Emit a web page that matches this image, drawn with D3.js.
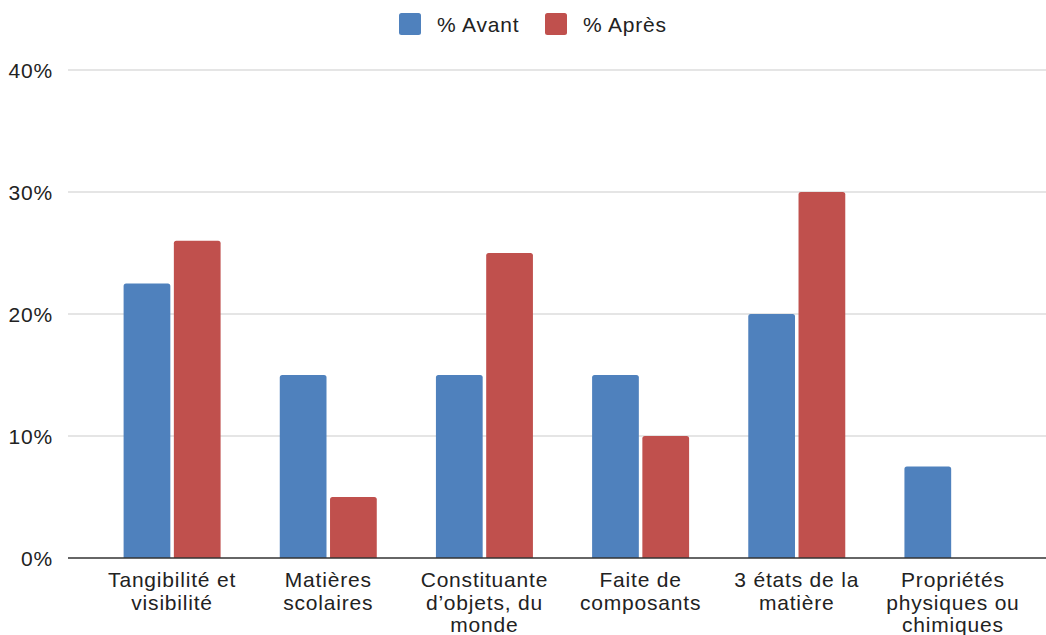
<!DOCTYPE html>
<html><head><meta charset="utf-8">
<script src="https://cdn.jsdelivr.net/npm/d3@7"></script>
<style>body{margin:0;background:#fff}svg{display:block;font-family:"Liberation Sans",Arial,sans-serif}</style>
</head><body><svg id="c" width="1046" height="635"></svg>
<script>
const categories = [
  ["Tangibilité et","visibilité"],
  ["Matières","scolaires"],
  ["Constituante","d’objets, du","monde"],
  ["Faite de","composants"],
  ["3 états de la","matière"],
  ["Propriétés","physiques ou","chimiques"]
];
const seriesNames = ["% Avant","% Après"];
const avant = [22.5, 15, 15, 15, 20, 7.5];
const apres = [26, 5, 25, 10, 30, 0];
const yTicks = [0, 10, 20, 30, 40];
const colors = ["#4f81bd","#c0504d"];

const svg = d3.select("#c");
const keys = categories.map(c => c.join(" "));
const x = d3.scaleBand().domain(keys).range([94, 1031]).padding(0);
const x1 = d3.scaleBand().domain(seriesNames).range([29.6, 126.6]).paddingInner(0.07);
const y = d3.scaleLinear().domain([0, 40]).range([558, 70]);

svg.append("g").selectAll("line").data(yTicks.filter(d=>d>0)).join("line")
  .attr("x1", 68).attr("x2", 1046)
  .attr("y1", d=>y(d)).attr("y2", d=>y(d))
  .attr("stroke", "#cccccc").attr("stroke-width", 1.2);

svg.append("g").selectAll("text").data(yTicks).join("text")
  .attr("x", 53).attr("y", d=>y(d)+7.5).attr("text-anchor","end")
  .attr("font-size", 21).attr("letter-spacing", 0.8).attr("fill","#222").text(d=>d+"%");

const data = keys.map((k,i)=>({k, vals:[avant[i], apres[i]]}));
const g = svg.append("g").selectAll("g").data(data).join("g")
  .attr("transform", d=>`translate(${x(d.k)},0)`);
function barPath(x0, w, top, bottom){
  if (bottom - top <= 0) return "";
  const r = Math.min(2.5, (bottom-top));
  return `M${x0},${bottom}V${top+r}Q${x0},${top} ${x0+r},${top}H${x0+w-r}Q${x0+w},${top} ${x0+w},${top+r}V${bottom}Z`;
}
g.selectAll("path").data(d=>d.vals.map((v,j)=>({v, s:seriesNames[j], j}))).join("path")
  .attr("d", d=>barPath(x1(d.s), x1.bandwidth(), y(d.v), y(0)))
  .attr("fill", d=>colors[d.j]);

svg.append("line").attr("x1",68).attr("x2",1046).attr("y1",y(0)).attr("y2",y(0))
  .attr("stroke","#333").attr("stroke-width",1.5);

const xl = svg.append("g").selectAll("text").data(categories).join("text")
  .attr("text-anchor","middle").attr("font-size",21).attr("letter-spacing",0.8).attr("fill","#222")
  .attr("transform",(d,i)=>`translate(${x(keys[i])+x.bandwidth()/2},587)`);
xl.selectAll("tspan").data(d=>d).join("tspan")
  .attr("x",0).attr("dy",(d,i)=>i===0?0:22.5).text(d=>d);

const legX = [399, 545];
const leg = svg.append("g").selectAll("g").data(seriesNames).join("g")
  .attr("transform",(d,i)=>`translate(${legX[i]},13)`);
leg.append("rect").attr("width",22).attr("height",22).attr("rx",2.5).attr("fill",(d,i)=>colors[i]);
leg.append("text").attr("x",38).attr("y",18.5).attr("font-size",21).attr("letter-spacing",0.8).attr("fill","#222").text(d=>d);
</script></body></html>
